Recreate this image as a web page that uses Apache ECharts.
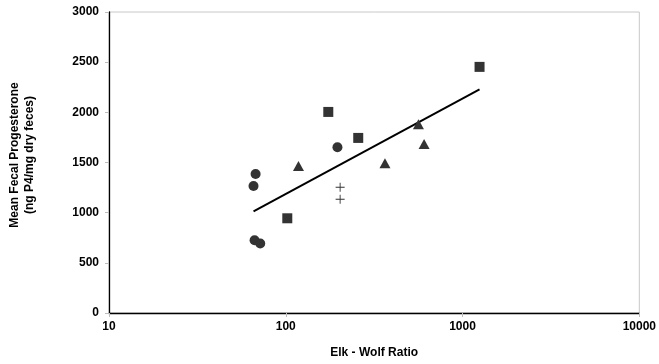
<!DOCTYPE html>
<html><head><meta charset="utf-8">
<script src="https://cdn.jsdelivr.net/npm/echarts@6/dist/echarts.min.js"></script>
<style>html,body{margin:0;padding:0;background:#fff}#c{width:659px;height:364px}</style>
</head><body><div id="c"></div>
<script>
// Elk-Wolf ratio vs mean fecal progesterone
const circles   = [[67.5,1386],[65.7,1266],[196,1652],[66.6,725],[71.7,692]];
const squares   = [[174,2004],[257,1745],[102,944],[1248,2453]];
const triangles = [[118,1466],[364,1493],[563,1881],[606,1685]];
const pluses    = [[203,1253],[203,1134]];
const trend     = [[65.7,1014],[1248,2230]];
const xTicks = [10,100,1000,10000];
const yTicks = [0,500,1000,1500,2000,2500,3000];

const font = 'Liberation Sans, Arial, sans-serif';
const mark = '#333333';
const chart = echarts.init(document.getElementById('c'));
chart.setOption({
  animation:false,
  backgroundColor:'#fff',
  grid:{left:109,right:18,top:12,bottom:51,show:true,borderColor:'#c8c8c8',borderWidth:1},
  xAxis:{type:'log',logBase:10,min:xTicks[0],max:xTicks[xTicks.length-1],
    axisLine:{show:true,lineStyle:{color:'#000',width:1.3}},
    axisTick:{show:true,length:4,lineStyle:{color:'#bdbdbd'}},
    minorTick:{show:false},splitLine:{show:false},
    axisLabel:{color:'#000',fontFamily:font,fontWeight:'bold',fontSize:12,margin:8,formatter:v=>String(v)},
    name:'Elk - Wolf Ratio',nameLocation:'middle',nameGap:34,
    nameTextStyle:{color:'#000',fontFamily:font,fontWeight:'bold',fontSize:12}},
  yAxis:{type:'value',min:yTicks[0],max:yTicks[yTicks.length-1],interval:500,
    axisLine:{show:true,lineStyle:{color:'#000',width:1.3}},
    axisTick:{show:true,length:4,lineStyle:{color:'#bdbdbd'}},
    splitLine:{show:false},
    axisLabel:{color:'#000',fontFamily:font,fontWeight:'bold',fontSize:12,margin:10,formatter:v=>String(v)}},
  graphic:[{type:'text',x:22,y:155,rotation:Math.PI/2,
    style:{text:'Mean Fecal Progesterone\n(ng P4/mg dry feces)',fill:'#000',
      font:'bold 12px '+font,align:'center',verticalAlign:'middle',lineHeight:15}}],
  series:[
    {type:'line',data:trend,symbol:'none',lineStyle:{color:'#000',width:2},z:3},
    {type:'scatter',data:circles,symbol:'circle',symbolSize:10,itemStyle:{color:mark,opacity:1},z:4},
    {type:'scatter',data:squares,symbol:'rect',symbolSize:10,itemStyle:{color:mark,opacity:1},z:4},
    {type:'scatter',data:triangles,symbol:'triangle',symbolSize:[11,10],itemStyle:{color:mark,opacity:1},z:4},
    {type:'scatter',data:pluses,symbol:'path://M4.5,0h1v4.5h4.5v1h-4.5v4.5h-1v-4.5h-4.5v-1h4.5z',symbolSize:9,itemStyle:{color:mark,opacity:1},z:4}
  ]
});
</script></body></html>
